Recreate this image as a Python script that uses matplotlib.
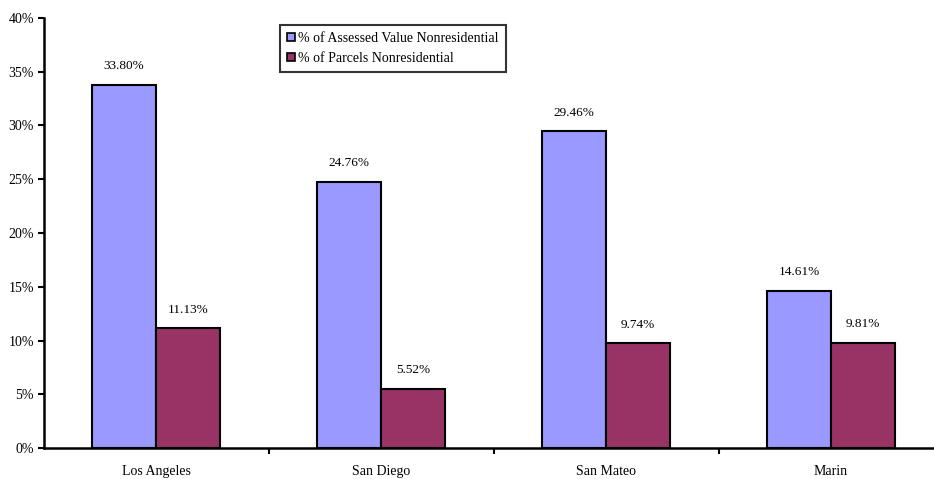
import numpy as np
import matplotlib
matplotlib.use('Agg')
import matplotlib.pyplot as plt
from matplotlib.ticker import MultipleLocator, FixedLocator, NullFormatter

plt.rcParams['font.family'] = ['Liberation Serif', 'DejaVu Serif']

counties = ['Los Angeles', 'San Diego', 'San Mateo', 'Marin']
assessed_value = [33.80, 24.76, 29.46, 14.61]
parcels = [11.13, 5.52, 9.74, 9.81]
series_names = ['% of Assessed Value Nonresidential', '% of Parcels Nonresidential']
colors = ['#9999FF', '#993366']

fig = plt.figure(figsize=(9.34, 4.79), dpi=100)
ax = fig.add_axes([43.5 / 934, 1 - 448 / 479, 900 / 934, 430 / 479])

x = np.arange(len(counties))
w = 0.284
bars1 = ax.bar(x - w / 2, assessed_value, w, color=colors[0], edgecolor='black',
               linewidth=1.5, label=series_names[0])
bars2 = ax.bar(x + w / 2, parcels, w, color=colors[1], edgecolor='black',
               linewidth=1.5, label=series_names[1])

for bars, vals in ((bars1, assessed_value), (bars2, parcels)):
    for b, v in zip(bars, vals):
        ax.annotate(f'{v:.2f}%', (b.get_x() + b.get_width() / 2, v),
                    xytext=(0, 9), textcoords='offset points',
                    ha='center', va='bottom', fontsize=9.5)

ax.set_xlim(-0.5, len(counties) - 0.5)
ax.set_ylim(0, 40)
ax.yaxis.set_major_locator(MultipleLocator(5))
ax.set_yticklabels([f'{int(t)}%' for t in ax.get_yticks()])

# category labels centred, tick marks between categories
ax.set_xticks(x)
ax.set_xticklabels(counties)
ax.tick_params(axis='x', which='major', length=0, pad=12, labelsize=10)
ax.xaxis.set_minor_locator(FixedLocator(np.arange(0.5, len(counties) - 0.5, 1)))
ax.xaxis.set_minor_formatter(NullFormatter())
ax.tick_params(axis='x', which='minor', length=4, width=1.5, direction='out')
ax.tick_params(axis='y', length=4, width=1.5, direction='out', labelsize=10, pad=3)

for side in ('top', 'right'):
    ax.spines[side].set_visible(False)
for side in ('left', 'bottom'):
    ax.spines[side].set_linewidth(1.8)

leg = ax.legend(loc='upper left', bbox_to_anchor=((280 - 43.5) / 900, 1 - (25 - 18) / 430),
                fontsize=10, frameon=True, fancybox=False, edgecolor='black',
                handlelength=0.6, handleheight=0.6, handletextpad=0.2,
                borderpad=0.5, labelspacing=0.5, borderaxespad=0)
leg.get_frame().set_linewidth(1.5)
for h in leg.legend_handles:
    h.set_linewidth(1.2)

fig.savefig('out.png', dpi=100)
